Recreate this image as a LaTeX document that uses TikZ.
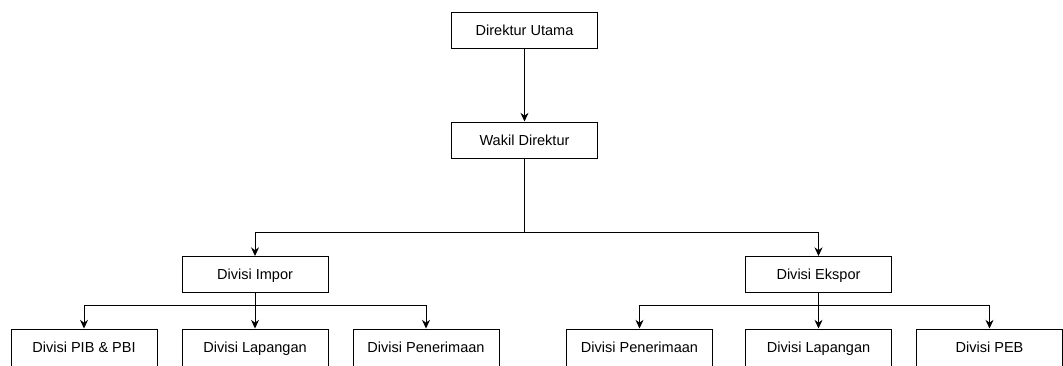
\documentclass[tikz,border=0pt]{standalone}
\usepackage{fontspec}
\setmainfont{Liberation Sans}
\usetikzlibrary{arrows.meta}

\begin{document}
\begin{tikzpicture}[x=0.75pt, y=-0.75pt, line width=0.75pt,
    jabatan/.style={draw, rectangle, minimum width=109.5pt, minimum height=27pt, inner sep=0pt, text height=7.8pt, text depth=0pt, font=\fontsize{10.9}{13}\selectfont},
    divisi/.style={jabatan, minimum height=27.75pt},
    panah/.style={-{Stealth[length=6.5pt, width=6pt]}}]
    \clip (0,0) rectangle (1063,365);

    % Pimpinan
    \node[jabatan] (dirut) at (524.5,30) {Direktur Utama};
    \node[jabatan] (wakil) at (524.5,140) {Wakil Direktur};
    \draw[panah] (dirut.south) -- (wakil.north);

    % Divisi utama
    \node[jabatan] (impor) at (255,274.5) {Divisi Impor};
    \node[jabatan] (ekspor) at (818.5,274.5) {Divisi Ekspor};
    \coordinate (bagi) at (524.5,232);
    \draw[panah] (wakil.south) -- (bagi) -| (impor.north);
    \draw[panah] (bagi) -| (ekspor.north);

    % Bagian impor
    \node[divisi] (pib) at (84,347.5) {Divisi PIB \& PBI};
    \node[divisi] (lapimp) at (255,347.5) {Divisi Lapangan};
    \node[divisi] (terimp) at (426,347.5) {Divisi Penerimaan};
    \coordinate (bagiimp) at (255,305);
    \draw[panah] (impor.south) -- (lapimp.north);
    \draw[panah] (bagiimp) -| (pib.north);
    \draw[panah] (bagiimp) -| (terimp.north);

    % Bagian ekspor
    \node[divisi] (terekp) at (639.5,347.5) {Divisi Penerimaan};
    \node[divisi] (lapekp) at (818.5,347.5) {Divisi Lapangan};
    \node[divisi] (peb) at (989.5,347.5) {Divisi PEB};
    \coordinate (bagiekp) at (818.5,305);
    \draw[panah] (ekspor.south) -- (lapekp.north);
    \draw[panah] (bagiekp) -| (terekp.north);
    \draw[panah] (bagiekp) -| (peb.north);
\end{tikzpicture}
\end{document}
